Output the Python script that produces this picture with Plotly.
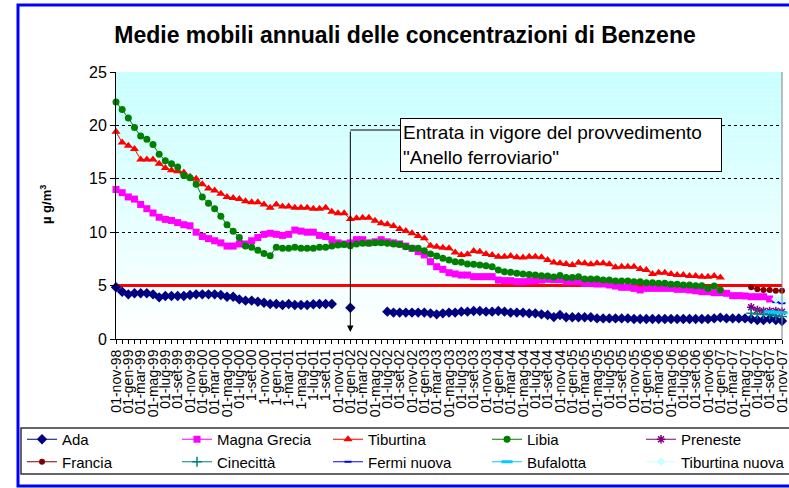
import plotly.graph_objects as go

# ---------------- DATA ----------------
MONTHS = [
    "01-nov-98", "01-dic-98",
    "01-gen-99", "01-feb-99", "01-mar-99", "01-apr-99", "01-mag-99", "01-giu-99",
    "01-lug-99", "01-ago-99", "01-set-99", "01-ott-99", "01-nov-99", "01-dic-99",
    "01-gen-00", "01-feb-00", "01-mar-00", "01-apr-00", "01-mag-00", "01-giu-00",
    "01-lug-00", "1-ago-00", "1-set-00", "1-ott-00", "1-nov-00", "1-dic-00",
    "1-gen-01", "1-feb-01", "1-mar-01", "1-apr-01", "1-mag-01", "1-giu-01",
    "1-lug-01", "1-ago-01", "1-set-01", "1-ott-01", "01-nov-01", "01-dic-01",
    "01-gen-02", "01-feb-02", "01-mar-02", "01-apr-02", "01-mag-02", "01-giu-02",
    "01-lug-02", "01-ago-02", "01-set-02", "01-ott-02", "01-nov-02", "01-dic-02",
    "01-gen-03", "01-feb-03", "01-mar-03", "01-apr-03", "01-mag-03", "01-giu-03",
    "01-lug-03", "01-ago-03", "01-set-03", "01-ott-03", "01-nov-03", "01-dic-03",
    "01-gen-04", "01-feb-04", "01-mar-04", "01-apr-04", "01-mag-04", "01-giu-04",
    "01-lug-04", "01-ago-04", "01-set-04", "01-ott-04", "01-nov-04", "01-dic-04",
    "01-gen-05", "01-feb-05", "01-mar-05", "01-apr-05", "01-mag-05", "01-giu-05",
    "01-lug-05", "01-ago-05", "01-set-05", "01-ott-05", "01-nov-05", "01-dic-05",
    "01-gen-06", "01-feb-06", "01-mar-06", "01-apr-06", "01-mag-06", "01-giu-06",
    "01-lug-06", "01-ago-06", "01-set-06", "01-ott-06", "01-nov-06", "01-dic-06",
    "01-gen-07", "01-feb-07", "01-mar-07", "01-apr-07", "01-mag-07", "01-giu-07",
    "01-lug-07", "01-ago-07", "01-set-07", "01-ott-07", "01-nov-07",
]

ADA = [
    4.84, 4.43,
    4.18, 4.28, 4.28, 4.28, 4.18, 3.90, 4.03, 4.03, 4.03, 4.03, 4.12, 4.18,
    4.18, 4.18, 4.18, 4.12, 3.96, 3.96, 3.71, 3.59, 3.59, 3.49, 3.40, 3.28,
    3.28, 3.18, 3.28, 3.18, 3.18, 3.18, 3.25, 3.28, 3.28, 3.28, None, None,
    2.93, None, None, None, None, None, 2.56, 2.47, 2.47, 2.47, 2.47, 2.47,
    2.47, 2.40, 2.31, 2.40, 2.47, 2.47, 2.56, 2.56, 2.62, 2.62, 2.56, 2.56,
    2.62, 2.56, 2.47, 2.47, 2.47, 2.40, 2.40, 2.31, 2.25, 2.05, 2.25, 2.03,
    2.03, 2.03, 2.03, 2.03, 1.93, 1.93, 1.93, 1.93, 1.93, 1.93, 1.87, 1.87,
    1.87, 1.87, 1.87, 1.87, 1.87, 1.87, 1.87, 1.87, 1.87, 1.87, 1.87, 1.93,
    2.00, 1.93, 1.93, 1.93, 1.93, 1.87, 1.78, 1.78, 1.87, 1.78, 1.69,
]

MAGNA_GRECIA = [
    14.0, 13.7,
    13.3, 13.1, 12.6, 12.2, 11.8, 11.4, 11.2, 11.1, 10.9, 10.7, 10.6, 10.0,
    9.6, 9.4, 9.2, 9.0, 8.7, 8.7, 8.9, 8.9, 9.2, 9.5, 9.8, 9.9,
    9.8, 9.7, 9.8, 10.2, 10.1, 10.0, 10.0, 9.7, 9.6, 9.3, 9.0, 8.9,
    9.0, 9.3, 9.3, 9.0, 9.1, 9.3, 9.1, 9.0, 8.9, 8.7, 8.49, 8.18,
    7.87, 7.24, 6.77, 6.52, 6.21, 6.09, 5.99, 5.99, 5.84, 5.84, 5.84, 5.84,
    5.52, 5.46, 5.46, 5.37, 5.37, 5.43, 5.46, 5.52, 5.59, 5.55, 5.55, 5.37,
    5.37, 5.37, 5.21, 5.21, 5.15, 5.15, 5.06, 4.96, 4.84, 4.84, 4.74, 4.59,
    4.74, 4.74, 4.74, 4.74, 4.74, 4.65, 4.65, 4.59, 4.52, 4.43, 4.43, 4.34,
    4.34, 4.28, 4.06, 4.06, 4.03, 3.96, 3.96, 3.96, 3.75, None, None,
]

TIBURTINA = [
    19.4, 18.4,
    18.1, 17.8, 16.8, 16.8, 16.8, 16.4, 16.0, 15.8, 15.7, 15.6, 15.2, 15.0,
    14.5, 14.1, 13.9, 13.6, 13.3, 13.2, 13.1, 12.9, 12.8, 12.8, 12.6, 12.3,
    12.6, 12.4, 12.4, 12.3, 12.3, 12.3, 12.2, 12.2, 12.3, 11.92, 11.77, 11.77,
    11.24, 11.30, 11.36, 11.36, 11.08, 10.83, 10.74, 10.58, 10.30, 10.11, 9.89, 9.64,
    9.43, 8.74, 8.64, 8.55, 8.49, 8.11, 7.87, 7.93, 8.24, 8.18, 7.96, 7.87,
    7.71, 7.71, 7.77, 7.65, 7.62, 7.71, 7.71, 7.65, 7.40, 7.17, 7.10, 7.02,
    6.93, 7.15, 7.09, 6.99, 7.09, 7.09, 6.99, 6.71, 6.77, 6.77, 6.77, 6.55,
    6.46, 6.09, 6.21, 6.21, 6.09, 5.99, 5.99, 5.90, 5.90, 5.84, 5.84, 5.90,
    5.77, None, None, None, None, None, None, None, None, None, None,
]

LIBIA = [
    22.2, 21.5,
    20.7, 19.8, 19.0, 18.7, 18.2, 17.3, 16.7, 16.4, 16.1, 15.3, 15.1, 14.5,
    13.3, 12.7, 12.2, 11.5, 10.7, 10.1, 9.5, 8.7, 8.6, 8.3, 8.0, 7.8,
    8.6, 8.5, 8.5, 8.6, 8.5, 8.5, 8.5, 8.6, 8.6, 8.7, 8.8, 8.86,
    8.74, 8.9, 8.96, 8.96, 9.02, 9.02, 8.96, 8.9, 8.86, 8.64, 8.49, 8.49,
    8.27, 7.96, 7.77, 7.55, 7.40, 7.24, 7.18, 7.02, 6.99, 6.93, 6.87, 6.77,
    6.46, 6.30, 6.24, 6.15, 6.09, 6.05, 5.99, 5.93, 5.90, 5.80, 5.95, 5.77,
    5.77, 5.84, 5.62, 5.62, 5.62, 5.52, 5.52, 5.43, 5.43, 5.43, 5.37, 5.37,
    5.27, 5.27, 5.21, 5.21, 5.12, 5.12, 5.06, 5.06, 4.99, 4.99, 4.74, 4.96,
    4.59, None, None, None, None, None, None, None, None, None, None,
]

# short series (last months of 2007 only)
PRENESTE = [None] * 103 + [2.97, 2.72, 2.62, 2.62, 2.62, 2.56]
FRANCIA = [None] * 103 + [4.84, 4.65, 4.59, 4.59, 4.52, 4.52]
CINECITTA = [None] * 103 + [2.40, 2.35, 2.30, 2.30, 2.20, 2.10]
FERMI_NUOVA = [None] * 107 + [3.45, 3.35]
BUFALOTTA = [None] * 106 + [2.55, 2.50, 2.45]
TIBURTINA_NUOVA = [None] * 107 + [3.75, 3.70]

LIMIT_VALUE = 5.0          # valore limite (linea rossa)
Y_TICKS = [0, 5, 10, 15, 20, 25]
EVENT_MONTH = "01-gen-02"   # entrata in vigore "Anello ferroviario"

TITLE = "Medie mobili annuali delle concentrazioni di Benzene"
Y_TITLE = "µ g/m<sup>3</sup>"
NOTE = "Entrata in vigore del provvedimento<br>\"Anello ferroviario\""

# ---------------- FIGURE ----------------
FONT = "Liberation Sans, Arial, sans-serif"
W, H = 789, 488
ML, MR, MT, MB = 116, 7, 72, 149
PW, PH = W - ML - MR, H - MT - MB


def px_x(px):
    return (px - ML) / PW


def px_y(py):
    return (H - MB - py) / PH


fig = go.Figure()

# limit line
fig.add_trace(go.Scatter(
    x=MONTHS, y=[LIMIT_VALUE] * len(MONTHS), mode="lines",
    line=dict(color="#FF0000", width=3), showlegend=False, hoverinfo="skip"))

series = [
    # name, data, color, symbol, size, legend, marker line
    ("Ada", ADA, "#000080", "diamond", 8, "legend", None),
    ("Magna Grecia", MAGNA_GRECIA, "#FF00FF", "square", 7, "legend2", None),
    ("Tiburtina", TIBURTINA, "#FF0000", "triangle-up", 8, "legend3", None),
    ("Libia", LIBIA, "#008000", "circle", 7, "legend4", None),
    ("Preneste", PRENESTE, "#800080", "asterisk-open", 7, "legend5", 1.5),
    ("Francia", FRANCIA, "#800000", "circle", 6, "legend", None),
    ("Cinecittà", CINECITTA, "#008080", "cross-thin-open", 7, "legend2", 1.5),
    ("Fermi nuova", FERMI_NUOVA, "#0000FF", "line-ew-open", 5, "legend3", 2),
    ("Bufalotta", BUFALOTTA, "#00CCFF", "line-ew-open", 8, "legend4", 3),
    ("Tiburtina nuova", TIBURTINA_NUOVA, "#CCFFFF", "diamond", 7, "legend5", None),
]

for name, data, color, symbol, size, leg, mlw in series:
    marker = dict(symbol=symbol, size=size, color=color)
    if mlw is not None:
        marker["line"] = dict(color=color, width=mlw)
    else:
        marker["line"] = dict(width=0)
    fig.add_trace(go.Scatter(
        x=MONTHS, y=data, name=name, mode="lines+markers",
        line=dict(color=color, width=1), marker=marker,
        legend=leg, cliponaxis=False))

# background gradient of plot area
shapes = []
NB = 60
for i in range(NB):
    f = i / (NB - 1)
    r = int(round(255 - (255 - 200) * f))
    shapes.append(dict(type="rect", xref="paper", yref="paper",
                       x0=0, x1=1, y0=i / NB, y1=(i + 1) / NB,
                       fillcolor=f"rgb({r},255,255)", line=dict(width=0),
                       layer="below"))

# plot area right border
shapes.append(dict(type="line", xref="paper", yref="paper", x0=1, x1=1, y0=0, y1=1,
                   line=dict(color="#808080", width=1)))

# connector from note box to event arrow
ev = MONTHS.index(EVENT_MONTH)
y_conn = (H - MB - 130) / PH * 25
y_tip = (H - MB - 332) / PH * 25
shapes.append(dict(type="line", xref="x", yref="y", x0=ev, x1=px_x(400) * (len(MONTHS) - 1),
                   y0=y_conn, y1=y_conn, line=dict(color="black", width=1)))

# legend box
shapes.append(dict(type="rect", xref="paper", yref="paper",
                   x0=px_x(21), x1=px_x(805), y0=px_y(474), y1=px_y(428),
                   line=dict(color="#333333", width=1.5), fillcolor="rgba(0,0,0,0)"))
# outer blue frame
shapes.append(dict(type="rect", xref="paper", yref="paper",
                   x0=px_x(18), x1=px_x(810), y0=px_y(486), y1=px_y(5),
                   line=dict(color="#0000FF", width=3), fillcolor="rgba(0,0,0,0)"))

annotations = [
    dict(x=ev, y=y_tip, xref="x", yref="y", ax=ev, ay=y_conn, axref="x", ayref="y",
         text="", showarrow=True, arrowhead=2, arrowsize=1.3, arrowwidth=1,
         arrowcolor="black", standoff=0),
    dict(x=px_x(400), y=px_y(145), xref="paper", yref="paper", xanchor="left",
         yanchor="middle", text=NOTE, showarrow=False, align="left",
         font=dict(family=FONT, size=19, color="black"),
         bgcolor="white", bordercolor="black", borderwidth=1, borderpad=2,
         width=316, height=48),
    dict(x=px_x(46), y=px_y(205), xref="paper", yref="paper", text="<b>" + Y_TITLE + "</b>",
         xanchor="center", yanchor="middle",
         textangle=-90, showarrow=False, font=dict(family=FONT, size=13, color="black")),
]

ticktext = [m if i % 2 == 0 else "" for i, m in enumerate(MONTHS)]

legend_cols = [22, 177, 328, 487, 641]
legend_common = dict(orientation="v", yanchor="top", xanchor="left",
                     bgcolor="rgba(0,0,0,0)", borderwidth=0,
                     font=dict(family=FONT, size=15, color="black"),
                     tracegroupgap=0, itemwidth=30)
legends = {}
for k, cx in enumerate(legend_cols):
    key = "legend" if k == 0 else f"legend{k + 1}"
    legends[key] = dict(legend_common, x=px_x(cx), y=px_y(423))

fig.update_layout(
    width=W, height=H,
    margin=dict(l=ML, r=MR, t=MT, b=MB, pad=0, autoexpand=False),
    paper_bgcolor="white", plot_bgcolor="white",
    font=dict(family=FONT, color="black"),
    title=dict(text="<b>" + TITLE + "</b>", x=405 / W, xanchor="center",
               y=1 - 35 / H, yanchor="middle", yref="container",
               font=dict(family=FONT, size=23, color="black")),
    xaxis=dict(type="category", range=[0, len(MONTHS) - 1], tickmode="array",
               tickvals=MONTHS, ticktext=ticktext, tickangle=-90,
               ticks="outside", ticklen=4, tickcolor="black",
               showline=True, linecolor="black", linewidth=1, showgrid=False,
               tickfont=dict(family=FONT, size=14, color="black"), zeroline=False),
    yaxis=dict(range=[0, 25], tickvals=Y_TICKS, ticks="outside", ticklen=5,
               tickcolor="black", showline=True, linecolor="black", linewidth=1,
               showgrid=True, gridcolor="black", gridwidth=1, griddash="dot",
               zeroline=False, tickfont=dict(family=FONT, size=16, color="black")),
    shapes=shapes, annotations=annotations,
    **legends,
)

fig.write_html("out.html", config={"displayModeBar": False},
               post_script="document.body.style.margin='0';")
